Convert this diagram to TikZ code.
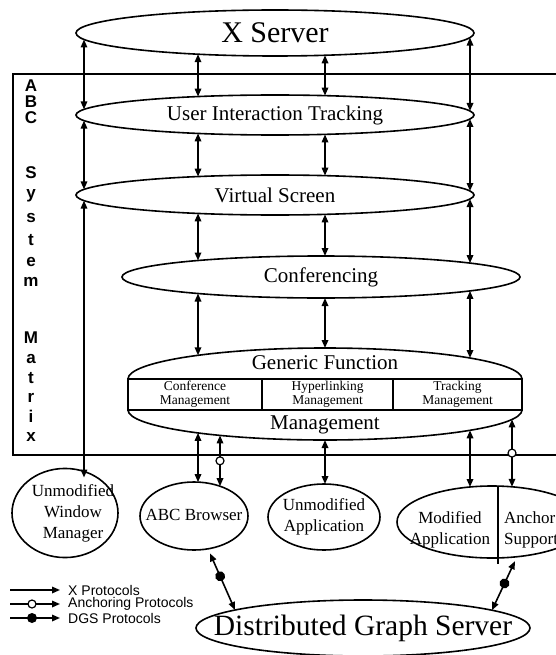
\documentclass[tikz,border=0pt]{standalone}
\usepackage{fontspec}
\setmainfont{Liberation Serif}
\newfontfamily\lgfont{Liberation Sans}
\usetikzlibrary{shapes.geometric,arrows.meta,decorations.markings,calc}

\newcommand{\ctext}[2][0pt]{\makebox[0pt]{\hspace*{#1}\begin{tabular}{@{}c@{}}#2\end{tabular}}}

\tikzset{
  layer/.style={ellipse, draw, line width=1.6pt, inner sep=0pt, minimum width=398pt,
    minimum height=40pt, font=\fontsize{21}{25}\selectfont},
  app/.style={ellipse, draw, line width=1.6pt, inner sep=0pt, font=\fontsize{17}{21}\selectfont},
  apptext/.style={inner sep=0pt, font=\fontsize{17}{21}\selectfont, align=center},
  gfcap/.style={ellipse, draw, line width=1.6pt, inner sep=0pt, minimum width=394pt},
  gfcell/.style={rectangle, draw, fill=white, line width=1.6pt, inner sep=0pt,
    minimum height=31pt, font=\fontsize{13.5}{14}\selectfont},
  mxletter/.style={inner sep=0pt, font=\lgfont\bfseries\fontsize{17}{17}\selectfont},
  lgtext/.style={anchor=west, inner sep=0pt, font=\lgfont\fontsize{14}{14}\selectfont},
  tip/.tip={Triangle[length=8pt,width=6.5pt]},
  xarr/.style={tip-tip, line width=1.6pt},
  xone/.style={-tip, line width=1.6pt},
  ancmark/.style={postaction={decorate}, decoration={markings, mark=at position #1 with
    {\draw[line width=1.2pt, fill=white] (0,0) circle (4pt);}}},
  ancmark/.default=0.5,
  dgsmark/.style={postaction={decorate}, decoration={markings, mark=at position #1 with
    {\fill (0,0) circle (5pt);}}},
  dgsmark/.default=0.45
}

\begin{document}
\begin{tikzpicture}[x=1pt,y=-1pt]
\useasboundingbox (0,0) rectangle (556,655);
\clip (0,0) rectangle (556,655);
% ABC System Matrix frame
\draw[line width=1.6pt] (13,74) rectangle (570,455);
\foreach \ch/\yy in {A/86,B/102,C/118,S/173,y/196,s/218,t/240,e/262,m/282,M/338,a/359,t/378,r/398,i/416,x/437}
  \node[mxletter] (mx\yy) at (31,\yy) {\ch};
% Layers
\node[layer, minimum height=46pt, font=\fontsize{30}{34}\selectfont] (xs) at (275,33) {X Server};
\node[layer] (uit) at (275,115) {User Interaction Tracking};
\node[layer] (vs) at (275,195) {Virtual Screen};
\node[layer, minimum height=42pt] (conf) at (321,277) {Conferencing};
% Generic Function Management
\node[gfcap, minimum height=62pt] (gftop) at (325,379) {};
\node[gfcap, minimum height=60pt] (gfbot) at (325,410) {};
\node[gfcell, minimum width=134pt] (cfm) at (195,394.5) {\ctext{Conference\\Management}};
\node[gfcell, minimum width=131pt] (hlm) at (327.5,394.5) {\ctext{Hyperlinking\\Management}};
\node[gfcell, minimum width=129pt] (trm) at (457.5,394.5) {\ctext{Tracking\\Management}};
\node[font=\fontsize{21}{25}\selectfont] (gftxt) at (325,363) {Generic Function};
\node[font=\fontsize{21}{25}\selectfont] (mgtxt) at (325,425) {Management};
% Applications
\node[app, minimum width=106pt, minimum height=76pt] (wm) at (65,513) {\ctext[16pt]{Unmodified\\Window\\Manager}};
\node[app, minimum width=108pt, minimum height=68pt] (abc) at (194,516) {\ctext{ABC Browser}};
\node[app, minimum width=112pt, minimum height=66pt] (uapp) at (324,517) {\ctext{Unmodified\\Application}};
\node[app, minimum width=190pt, minimum height=72pt] (mapp) at (492,522) {};
\draw[line width=1.6pt] ($(mapp)+(6,-35.9)$) -- ++(0,78);
\node[apptext] (mapptxt) at (450,530) {Modified\\Application};
\node[apptext, anchor=west, align=left] (anctxt) at (504,530) {Anchor\\Support};
\node[ellipse, draw, line width=1.6pt, inner sep=0pt, minimum width=334pt, minimum height=56pt,
  font=\fontsize{29.5}{34}\selectfont] (dgs) at (363,628) {\makebox[0pt]{Distributed Graph Server}};
% X protocols
\draw[xarr] ($(xs)+(-191,6.5)$) -- ($(uit)+(-191,-5.6)$);
\draw[xarr] ($(xs)+(-77,21.2)$) -- ($(uit)+(-77,-18.4)$);
\draw[xarr] ($(xs)+(50,22.3)$) -- ($(uit)+(50,-19.4)$);
\draw[xarr] ($(xs)+(195,4.6)$) -- ($(uit)+(195,-4)$);
\draw[xarr] ($(uit)+(-191,5.6)$) -- ($(vs)+(-191,-5.6)$);
\draw[xarr] ($(uit)+(-77,18.4)$) -- ($(vs)+(-77,-18.4)$);
\draw[xarr] ($(uit)+(50,19.4)$) -- ($(vs)+(50,-19.4)$);
\draw[xarr] ($(uit)+(195,4)$) -- ($(vs)+(195,-4)$);
\draw[xarr] ($(vs)+(-77,18.4)$) -- ($(conf)+(-123,-16.5)$);
\draw[xarr] ($(vs)+(50,19.4)$) -- ($(conf)+(4,-21)$);
\draw[xarr] ($(vs)+(195,4)$) -- ($(conf)+(149,-13.9)$);
\draw[xarr] ($(conf)+(-123,16.5)$) -- ($(gftop)+(-127,-23.7)$);
\draw[xarr] ($(conf)+(4,21)$) -- ($(gftop)+(0,-31)$);
\draw[xarr] ($(conf)+(149,13.9)$) -- ($(gftop)+(145,-21)$);
\draw[xarr] ($(vs)+(-191,5.6)$) -- ($(wm)+(19,-35.5)$);
\draw[xarr] ($(gfbot)+(-127,22.9)$) -- ($(abc)+(4,-33.9)$);
\draw[xarr] ($(gfbot)+(0,30)$) -- ($(uapp)+(1,-33)$);
\draw[xarr] ($(gfbot)+(145,20.3)$) -- ($(mapp)+(-22,-35)$);
% Anchoring protocols
\draw[xarr, ancmark] ($(gfbot)+(-105,25.4)$) -- ($(abc)+(26,-29.8)$);
\draw[xarr, ancmark] ($(gfbot)+(187,9.4)$) -- ($(mapp)+(20,-35.2)$);
% DGS protocols
\draw[xarr, dgsmark, shorten <=5pt] ($(abc)+(14,32.8)$) -- ($(dgs)+(-128,-18)$);
\draw[xarr, dgsmark=0.5, shorten <=5pt] ($(mapp)+(25,34.7)$) -- ($(dgs)+(129,-17.8)$);
% Legend
\coordinate (lgxa) at (10,590); \coordinate (lgxb) at (60,590);
\coordinate (lgaa) at (10,604); \coordinate (lgab) at (60,604);
\coordinate (lgda) at (10,618); \coordinate (lgdb) at (60,618);
\draw[xone] (lgxa) -- (lgxb);
\draw[xone, ancmark=0.44] (lgaa) -- (lgab);
\draw[xone, dgsmark=0.44] (lgda) -- (lgdb);
\node[lgtext] (lgx) at (68,590) {X Protocols};
\node[lgtext] (lga) at (68,604) {Anchoring Protocols};
\node[lgtext] (lgd) at (68,618) {DGS Protocols};
\end{tikzpicture}
\end{document}
